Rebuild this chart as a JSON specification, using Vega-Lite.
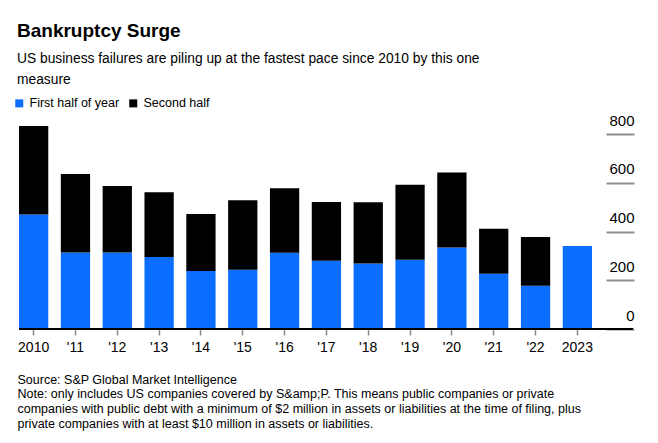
{
  "$schema": "https://vega.github.io/schema/vega-lite/v6.json",
  "autosize": "none",
  "width": 614,
  "height": 195,
  "padding": {"left": 19, "top": 134, "right": 25, "bottom": 114},
  "background": "white",
  "config": {
    "font": "Liberation Sans",
    "view": {"stroke": null}
  },
  "title": {
    "text": "Bankruptcy Surge",
    "subtitle": ["US business failures are piling up at the fastest pace since 2010 by this one", "measure"],
    "anchor": "start",
    "frame": "group",
    "font": "Liberation Sans",
    "fontSize": 19,
    "fontWeight": "bold",
    "color": "black",
    "subtitleFont": "Liberation Sans",
    "subtitleFontSize": 13.8,
    "subtitleColor": "black",
    "subtitleLineHeight": 21,
    "subtitlePadding": 11,
    "dx": -2,
    "offset": 10
  },
  "data": {
    "values": [
      {"year": "2010", "half": "First half of year", "order": 1, "count": 470},
      {"year": "2010", "half": "Second half", "order": 2, "count": 363},
      {"year": "'11", "half": "First half of year", "order": 1, "count": 314},
      {"year": "'11", "half": "Second half", "order": 2, "count": 322},
      {"year": "'12", "half": "First half of year", "order": 1, "count": 314},
      {"year": "'12", "half": "Second half", "order": 2, "count": 273},
      {"year": "'13", "half": "First half of year", "order": 1, "count": 295},
      {"year": "'13", "half": "Second half", "order": 2, "count": 266},
      {"year": "'14", "half": "First half of year", "order": 1, "count": 238},
      {"year": "'14", "half": "Second half", "order": 2, "count": 234},
      {"year": "'15", "half": "First half of year", "order": 1, "count": 243},
      {"year": "'15", "half": "Second half", "order": 2, "count": 285},
      {"year": "'16", "half": "First half of year", "order": 1, "count": 313},
      {"year": "'16", "half": "Second half", "order": 2, "count": 264},
      {"year": "'17", "half": "First half of year", "order": 1, "count": 280},
      {"year": "'17", "half": "Second half", "order": 2, "count": 241},
      {"year": "'18", "half": "First half of year", "order": 1, "count": 269},
      {"year": "'18", "half": "Second half", "order": 2, "count": 251},
      {"year": "'19", "half": "First half of year", "order": 1, "count": 284},
      {"year": "'19", "half": "Second half", "order": 2, "count": 308},
      {"year": "'20", "half": "First half of year", "order": 1, "count": 334},
      {"year": "'20", "half": "Second half", "order": 2, "count": 308},
      {"year": "'21", "half": "First half of year", "order": 1, "count": 227},
      {"year": "'21", "half": "Second half", "order": 2, "count": 184},
      {"year": "'22", "half": "First half of year", "order": 1, "count": 177},
      {"year": "'22", "half": "Second half", "order": 2, "count": 200},
      {"year": "2023", "half": "First half of year", "order": 1, "count": 341}
    ]
  },
  "layer": [
    {
      "mark": {"type": "bar"},
      "encoding": {
        "x": {
          "field": "year",
          "type": "nominal",
          "sort": null,
          "scale": {"range": [0, 573], "paddingInner": 0.3, "paddingOuter": 0},
          "axis": {
            "title": [
              "Source: S&P Global Market Intelligence",
              "Note: only includes US companies covered by S&amp;P. This means public companies or private",
              "companies with public debt with a minimum of $2 million in assets or liabilities at the time of filing, plus",
              "private companies with at least $10 million in assets or liabilities."
            ],
            "titleFont": "Liberation Sans",
            "titleFontSize": 12.5,
            "titleFontWeight": "normal",
            "titleColor": "black",
            "titleAnchor": "start",
            "titleAlign": "left",
            "titleBaseline": "top",
            "titleLineHeight": 14.7,
            "titleX": -2,
            "titleY": 44,
            "domain": false,
            "ticks": true,
            "tickColor": "#888888",
            "tickSize": 6,
            "tickWidth": 1.5,
            "labelAngle": 0,
            "labelFontSize": 14,
            "labelColor": "black",
            "labelPadding": 5
          }
        },
        "y": {
          "field": "count",
          "type": "quantitative",
          "stack": "zero",
          "scale": {"domain": [0, 800], "nice": false},
          "axis": {
            "orient": "right",
            "title": null,
            "offset": -27,
            "values": [0, 200, 400, 600, 800],
            "domain": false,
            "grid": false,
            "ticks": true,
            "tickColor": "#8c8c8c",
            "tickSize": 28,
            "tickWidth": 2,
            "labelAlign": "right",
            "labelBaseline": "alphabetic",
            "labelOffset": -9,
            "labelPadding": 0,
            "labelFontSize": 15,
            "labelColor": "black",
            "labelFlush": false
          }
        },
        "color": {
          "field": "half",
          "type": "nominal",
          "scale": {"domain": ["First half of year", "Second half"], "range": ["#0b6eff", "#000000"]},
          "legend": {
            "title": null,
            "orient": "none",
            "direction": "horizontal",
            "legendX": -6,
            "legendY": -37,
            "symbolType": "square",
            "symbolSize": 64,
            "symbolStrokeWidth": 0,
            "labelFont": "Liberation Sans",
            "labelFontSize": 12.5,
            "labelColor": "black",
            "labelOffset": 4,
            "columnPadding": 7
          }
        },
        "order": {"field": "order", "type": "quantitative"}
      }
    },
    {
      "mark": {"type": "rule", "color": "black", "strokeWidth": 1},
      "encoding": {"y": {"datum": 0}}
    }
  ]
}
